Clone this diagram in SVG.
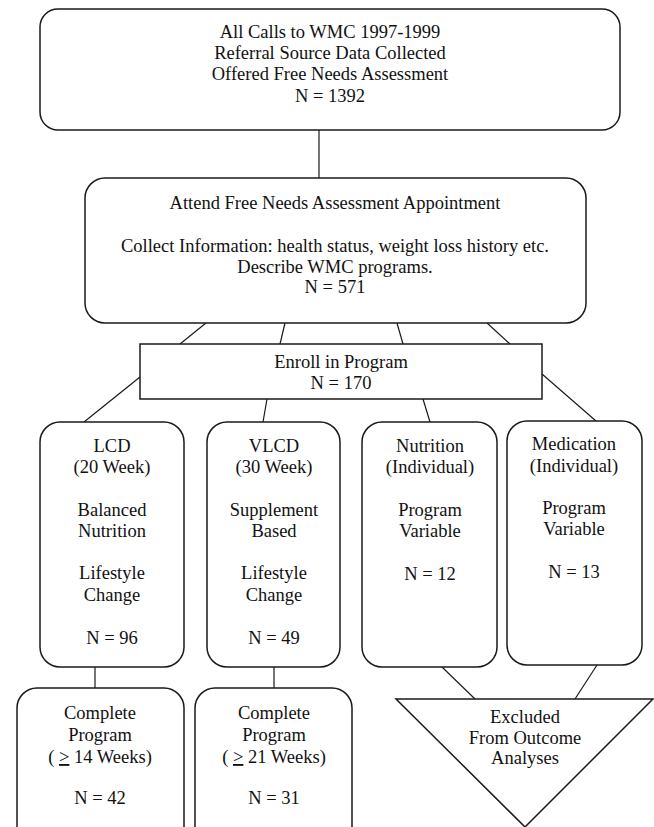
<svg xmlns="http://www.w3.org/2000/svg" width="654" height="827" viewBox="0 0 654 827">
<style>
.box{fill:#fff;stroke:#1a1a1a;stroke-width:1.5}
.c line,.c polyline{stroke:#1a1a1a;stroke-width:1.2;fill:none}
text{font-family:"Liberation Serif","Times New Roman",serif;font-size:18.5px;fill:#111;text-anchor:middle}
</style>
<rect width="654" height="827" fill="#fff"/>
<g id="connectors" class="c">
<line x1="319" y1="130" x2="319" y2="178"/>
<line x1="206" y1="323" x2="180" y2="344"/>
<line x1="285" y1="323" x2="280" y2="344"/>
<line x1="397" y1="323" x2="403" y2="344"/>
<line x1="487" y1="323" x2="510" y2="344"/>
<line x1="140" y1="377" x2="84" y2="422"/>
<line x1="267" y1="399" x2="263" y2="422"/>
<line x1="423" y1="399" x2="430" y2="422"/>
<line x1="542" y1="374" x2="596" y2="421"/>
<line x1="95" y1="667" x2="95" y2="688"/>
<line x1="274" y1="667" x2="274" y2="688"/>
<line x1="442" y1="667" x2="475" y2="699"/>
<line x1="597" y1="665" x2="575" y2="699"/>
</g>
<g id="n-calls">
<rect class="box" x="40" y="9" width="580" height="121" rx="18" ry="18"/>
<text x="330" y="38">All Calls to WMC 1997-1999</text>
<text x="330" y="59">Referral Source Data Collected</text>
<text x="330" y="80">Offered Free Needs Assessment</text>
<text x="330" y="102">N = 1392</text>
</g>
<g id="n-attend">
<rect class="box" x="85" y="178" width="501" height="145" rx="20" ry="20"/>
<text x="335" y="209">Attend Free Needs Assessment Appointment</text>
<text x="335" y="252">Collect Information: health status, weight loss history etc.</text>
<text x="335" y="273">Describe WMC programs.</text>
<text x="335" y="293">N = 571</text>
</g>
<g id="n-enroll">
<rect class="box" x="140" y="344" width="402" height="55"/>
<text x="341" y="368">Enroll in Program</text>
<text x="341" y="389">N = 170</text>
</g>
<g id="n-lcd">
<rect class="box" x="40" y="422" width="144" height="245" rx="20" ry="20"/>
<text x="112" y="452">LCD</text>
<text x="112" y="473">(20 Week)</text>
<text x="112" y="516">Balanced</text>
<text x="112" y="537">Nutrition</text>
<text x="112" y="579">Lifestyle</text>
<text x="112" y="601">Change</text>
<text x="112" y="644">N = 96</text>
</g>
<g id="n-vlcd">
<rect class="box" x="207" y="422" width="133" height="245" rx="20" ry="20"/>
<text x="274" y="452">VLCD</text>
<text x="274" y="473">(30 Week)</text>
<text x="274" y="516">Supplement</text>
<text x="274" y="537">Based</text>
<text x="274" y="579">Lifestyle</text>
<text x="274" y="601">Change</text>
<text x="274" y="644">N = 49</text>
</g>
<g id="n-nutrition">
<rect class="box" x="362" y="422" width="135" height="245" rx="20" ry="20"/>
<text x="430" y="452">Nutrition</text>
<text x="430" y="473">(Individual)</text>
<text x="430" y="516">Program</text>
<text x="430" y="537">Variable</text>
<text x="430" y="580">N = 12</text>
</g>
<g id="n-medication">
<rect class="box" x="507" y="421" width="135" height="244" rx="20" ry="20"/>
<text x="574" y="450">Medication</text>
<text x="574" y="472">(Individual)</text>
<text x="574" y="514">Program</text>
<text x="574" y="535">Variable</text>
<text x="574" y="578">N = 13</text>
</g>
<g id="n-complete-lcd">
<rect class="box" x="17" y="688" width="167" height="160" rx="20" ry="20"/>
<text x="100" y="719">Complete</text>
<text x="100" y="741">Program</text>
<text x="100" y="763">( <tspan text-decoration="underline">&gt;</tspan> 14 Weeks)</text>
<text x="100" y="804">N = 42</text>
</g>
<g id="n-complete-vlcd">
<rect class="box" x="195" y="688" width="157" height="160" rx="20" ry="20"/>
<text x="274" y="719">Complete</text>
<text x="274" y="741">Program</text>
<text x="274" y="763">( <tspan text-decoration="underline">&gt;</tspan> 21 Weeks)</text>
<text x="274" y="804">N = 31</text>
</g>
<g id="n-excluded">
<polygon class="box" points="396,699 653,699 525,827"/>
<text x="525" y="723">Excluded</text>
<text x="525" y="744">From Outcome</text>
<text x="525" y="764">Analyses</text>
</g>
</svg>
